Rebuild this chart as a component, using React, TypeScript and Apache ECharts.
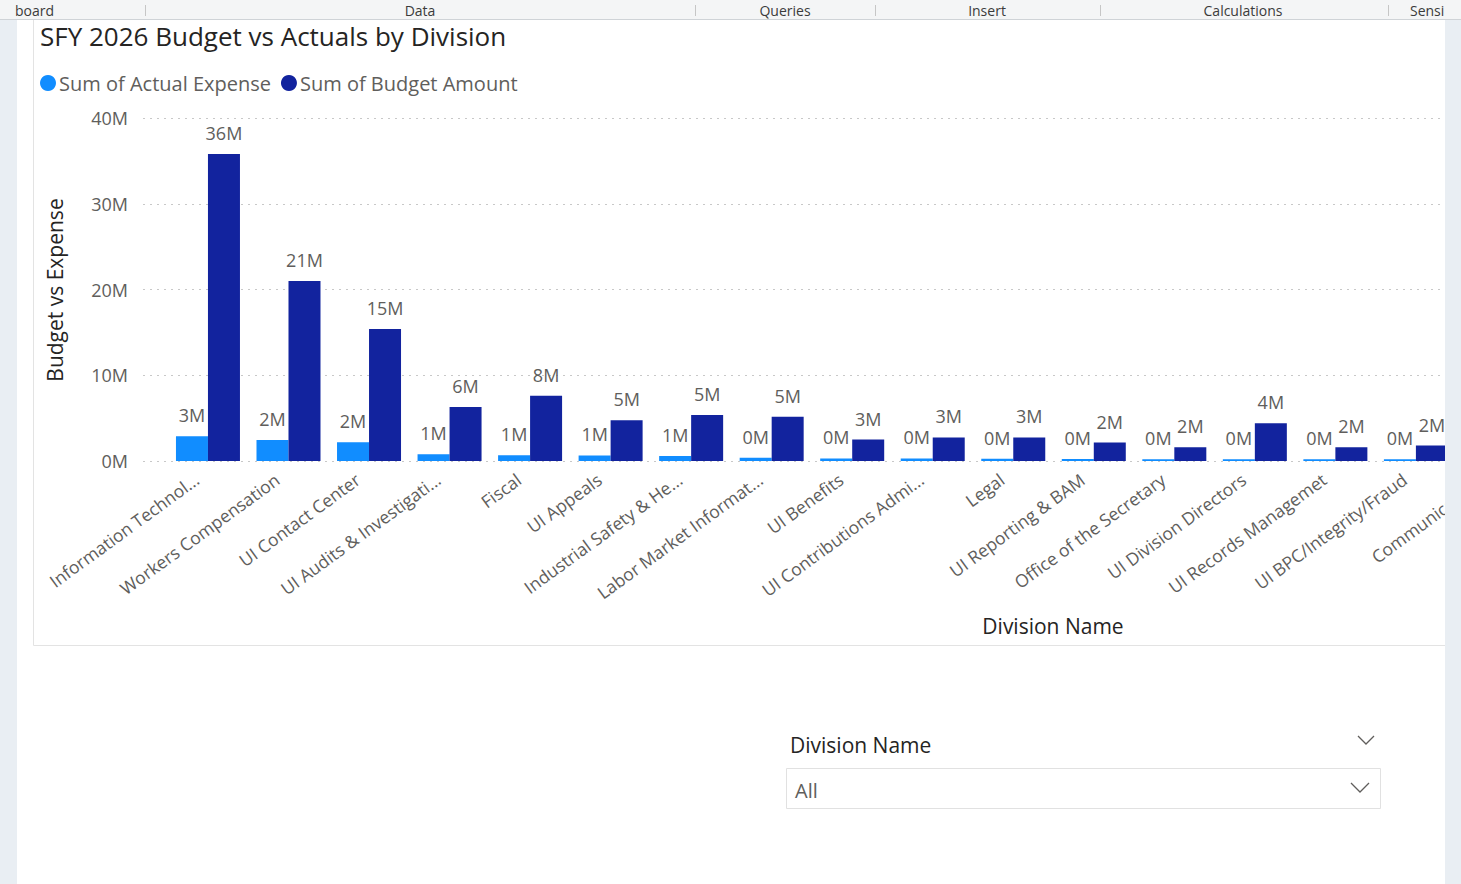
import React, { useEffect, useRef } from "react";
import * as echarts from "echarts";

const categories = [
  "Information Technol...",
  "Workers Compensation",
  "UI Contact Center",
  "UI Audits & Investigati...",
  "Fiscal",
  "UI Appeals",
  "Industrial Safety & He...",
  "Labor Market Informat...",
  "UI Benefits",
  "UI Contributions Admi...",
  "Legal",
  "UI Reporting & BAM",
  "Office of the Secretary",
  "UI Division Directors",
  "UI Records Managemet",
  "UI BPC/Integrity/Fraud",
  "Communications",
];

// values in millions
const actualExpense = [2.9, 2.45, 2.2, 0.8, 0.68, 0.65, 0.58, 0.38, 0.3, 0.3, 0.25, 0.22, 0.2, 0.2, 0.2, 0.2, 0.2];
const budgetAmount = [35.8, 21.0, 15.4, 6.3, 7.6, 4.75, 5.35, 5.15, 2.5, 2.75, 2.75, 2.15, 1.6, 4.4, 1.6, 1.8, 1.9];

const yMin = 0;
const yMax = 40;
const yInterval = 10;

const headerItems = [
  { text: "board", x: 15, align: "left" },
  { text: "Data", x: 420, align: "center" },
  { text: "Queries", x: 785, align: "center" },
  { text: "Insert", x: 987, align: "center" },
  { text: "Calculations", x: 1243, align: "center" },
  { text: "Sensi", x: 1410, align: "left" },
];
const headerSeparators = [145, 695, 875, 1100, 1388];

const FF = "'Segoe UI', 'Open Sans', sans-serif";
const CANVAS_W = 1545;

export default function App() {
  const ref = useRef<HTMLDivElement>(null);

  useEffect(() => {
    if (!ref.current) return;
    const chart = echarts.init(ref.current, undefined, { renderer: "svg" });

    const graphics: any[] = [
      { type: "rect", z: -100, shape: { x: 17, y: 20, width: 1428, height: 864 }, style: { fill: "#ffffff" } },
      {
        type: "rect",
        z: -90,
        shape: { x: 33.5, y: 14.5, width: 1420, height: 631 },
        style: { fill: "#ffffff", stroke: "#e3e3e3", lineWidth: 1 },
      },
      { type: "rect", z: 50, shape: { x: 0, y: 0, width: CANVAS_W, height: 19 }, style: { fill: "#f4f5f6" } },
      { type: "line", z: 50, shape: { x1: 0, y1: 19.5, x2: CANVAS_W, y2: 19.5 }, style: { stroke: "#cfd3d7", lineWidth: 1 } },
      { type: "rect", z: 60, shape: { x: 1445, y: 20, width: CANVAS_W - 1445, height: 864 }, style: { fill: "#e9eef3" } },
      {
        type: "text",
        z: 10,
        x: 40,
        y: 36,
        style: { text: "SFY 2026 Budget vs Actuals by Division", fill: "#252423", font: `26px ${FF}`, textAlign: "left", textVerticalAlign: "middle", verticalAlign: "middle" },
      },
      {
        type: "text",
        z: 10,
        x: 55,
        y: 290,
        rotation: Math.PI / 2,
        style: { text: "Budget vs Expense", fill: "#252423", font: `21px ${FF}`, textAlign: "center", textVerticalAlign: "middle", verticalAlign: "middle" },
      },
      {
        type: "text",
        z: 10,
        x: 1053,
        y: 626,
        style: { text: "Division Name", fill: "#252423", font: `21px ${FF}`, textAlign: "center", textVerticalAlign: "middle", verticalAlign: "middle" },
      },
      {
        type: "text",
        z: 10,
        x: 790,
        y: 745,
        style: { text: "Division Name", fill: "#252423", font: `21px ${FF}`, textAlign: "left", textVerticalAlign: "middle", verticalAlign: "middle" },
      },
      {
        type: "polyline",
        z: 10,
        shape: { points: [[1358, 736], [1366, 744], [1374, 736]] },
        style: { stroke: "#605E5C", lineWidth: 1.3, fill: null },
      },
      {
        type: "rect",
        z: 10,
        shape: { x: 786.5, y: 768.5, width: 594, height: 40 },
        style: { fill: "#ffffff", stroke: "#e1e1e1", lineWidth: 1 },
      },
      {
        type: "text",
        z: 11,
        x: 795,
        y: 790,
        style: { text: "All", fill: "#605E5C", font: `20px ${FF}`, textAlign: "left", textVerticalAlign: "middle", verticalAlign: "middle" },
      },
      {
        type: "polyline",
        z: 11,
        shape: { points: [[1351, 783], [1360, 792], [1369, 783]] },
        style: { stroke: "#605E5C", lineWidth: 1.3, fill: null },
      },
    ];

    headerItems.forEach((h) => {
      graphics.push({
        type: "text",
        z: 51,
        x: h.x,
        y: 10,
        style: { text: h.text, fill: "#3b3b3b", font: `14px ${FF}`, textAlign: h.align, textVerticalAlign: "middle", verticalAlign: "middle" },
      });
    });
    headerSeparators.forEach((sx) => {
      graphics.push({
        type: "line",
        z: 51,
        shape: { x1: sx + 0.5, y1: 5, x2: sx + 0.5, y2: 16 },
        style: { stroke: "#c6c6c6", lineWidth: 1 },
      });
    });

    const labelStyle = {
      show: true,
      position: "top",
      distance: 12,
      fontSize: 18,
      color: "#605E5C",
      fontFamily: FF,
      formatter: (p: any) => Math.round(p.value) + "M",
    };

    chart.setOption({
      animation: false,
      backgroundColor: "#e9eef3",
      textStyle: { fontFamily: FF },
      graphic: { elements: graphics },
      legend: {
        left: 35,
        top: 68,
        icon: "circle",
        itemWidth: 16,
        itemHeight: 16,
        itemGap: 10,
        textStyle: { fontSize: 20, color: "#605E5C", fontFamily: FF, padding: [0, 0, 0, -2] },
        data: ["Sum of Actual Expense", "Sum of Budget Amount"],
      },
      grid: [
        { left: 143, top: 118, width: 1302, height: 343 },
        { left: 167.7, top: 118, width: 1369, height: 343 },
      ],
      xAxis: [
        { gridIndex: 0, type: "value", min: 0, max: 1, show: false },
        {
          gridIndex: 1,
          type: "category",
          data: categories,
          axisLine: { show: false },
          axisTick: { show: false },
          axisLabel: { rotate: 36, margin: 8, padding: [0, 14, 0, 0], interval: 0, fontSize: 17.5, color: "#605E5C", fontFamily: FF },
        },
      ],
      yAxis: [
        {
          gridIndex: 0,
          type: "value",
          min: yMin,
          max: yMax,
          interval: yInterval,
          axisLine: { show: false },
          axisTick: { show: false },
          axisLabel: { margin: 15, fontSize: 18, color: "#605E5C", fontFamily: FF, formatter: (v: number) => v + "M" },
          splitLine: { show: true, lineStyle: { type: [2, 5], color: "#c8c8c8", width: 1 } },
        },
        {
          gridIndex: 1,
          type: "value",
          min: yMin,
          max: yMax,
          interval: yInterval,
          show: false,
          splitLine: { show: false },
        },
      ],
      series: [
        {
          name: "Sum of Actual Expense",
          type: "bar",
          xAxisIndex: 1,
          yAxisIndex: 1,
          data: actualExpense,
          barWidth: 32,
          barGap: "0%",
          itemStyle: { color: "#118DFF" },
          label: labelStyle,
        },
        {
          name: "Sum of Budget Amount",
          type: "bar",
          xAxisIndex: 1,
          yAxisIndex: 1,
          data: budgetAmount,
          barWidth: 32,
          barGap: "0%",
          itemStyle: { color: "#12239E" },
          label: labelStyle,
        },
      ],
    });

    return () => chart.dispose();
  }, []);

  return <div ref={ref} style={{ position: "fixed", left: 0, top: 0, width: CANVAS_W, height: 884 }} />;
}
